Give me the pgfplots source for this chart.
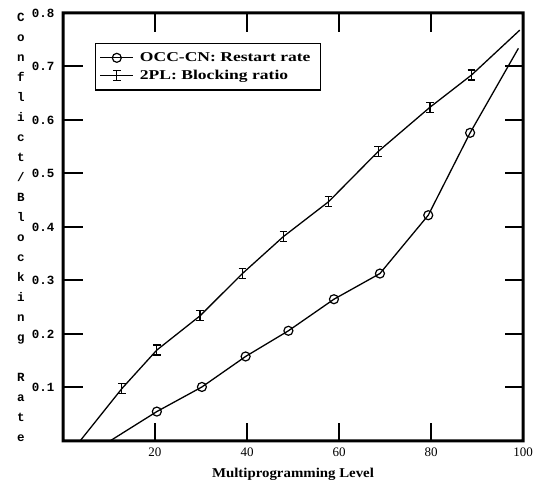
\documentclass[border=0pt]{standalone}
\usepackage{fontspec}
\setmainfont{Liberation Serif}
\setmonofont{Liberation Mono}
\newfontfamily\legfont[FakeStretch=1.3]{Liberation Serif}
\newfontfamily\labfont[FakeStretch=1.1]{Liberation Serif}
\usepackage{pgfplots}
\pgfplotsset{compat=1.18}

% I-shaped marker for the 2PL curve
\pgfdeclareplotmark{ibeam}{%
  \pgfpathmoveto{\pgfqpoint{-0.75\pgfplotmarksize}{\pgfplotmarksize}}%
  \pgfpathlineto{\pgfqpoint{0.75\pgfplotmarksize}{\pgfplotmarksize}}%
  \pgfpathmoveto{\pgfqpoint{0pt}{\pgfplotmarksize}}%
  \pgfpathlineto{\pgfqpoint{0pt}{-\pgfplotmarksize}}%
  \pgfpathmoveto{\pgfqpoint{-0.75\pgfplotmarksize}{-\pgfplotmarksize}}%
  \pgfpathlineto{\pgfqpoint{0.75\pgfplotmarksize}{-\pgfplotmarksize}}%
  \pgfusepathqstroke}

\begin{document}
\begin{tikzpicture}
\useasboundingbox (-63pt,-48pt) rectangle (486pt,441pt);
\begin{axis}[
  at={(0pt,0pt)}, anchor=south west,
  scale only axis, width=460pt, height=428pt,
  xmin=0, xmax=100, ymin=0, ymax=0.8,
  xtick={20,40,60,80,100}, xticklabels={20,40,60,80,100},
  ytick={0.1,0.2,0.3,0.4,0.5,0.6,0.7,0.8},
  yticklabels={0.1,0.2,0.3,0.4,0.5,0.6,0.7,0.8},
  tick align=inside, major tick length=18pt,
  every tick/.append style={black, line width=1.3pt},
  axis line style={line width=1.6pt},
  xticklabel style={font=\fontsize{13}{13}\selectfont, anchor=base, yshift=-16pt},
  yticklabel style={font=\fontsize{12.5}{12.5}\selectfont\ttfamily\bfseries, xshift=-5pt},
  xlabel={Multiprogramming Level},
  xlabel style={font=\labfont\bfseries\fontsize{13.5}{14}\selectfont,
    at={(axis description cs:0.5,0)}, anchor=base, yshift=-37pt},
  legend style={at={(0.0696,0.930)}, anchor=north west, draw=black, line width=1.3pt,
    font=\legfont\bfseries\fontsize{13.5}{15}\selectfont, row sep=3pt,
    inner xsep=4pt, inner ysep=7pt, nodes={inner xsep=6pt}},
  legend cell align=left,
  legend image code/.code={\draw[#1, mark indices={2}] plot coordinates {(0pt,0pt) (16.5pt,0pt) (33pt,0pt)};},
  clip=false]

\addplot[black, line width=1.3pt, mark=o, mark size=4.5pt, mark indices={2,3,4,5,6,7,8,9},
  mark options={fill=white, line width=1.2pt}]
  coordinates {(10.2,0) (20.4,0.055) (30.2,0.101) (39.7,0.158) (49.0,0.206)
    (58.9,0.265) (68.9,0.313) (79.4,0.422) (88.5,0.576) (99.0,0.734)};
\addlegendentry{OCC-CN: Restart rate}

\addplot[black, line width=1.3pt, mark=ibeam, mark size=5pt, mark indices={2,3,4,5,6,7,8,9,10},
  mark options={line width=1.2pt}]
  coordinates {(3.7,0) (12.8,0.098) (20.4,0.170) (29.8,0.234) (39.0,0.313) (47.9,0.382)
    (57.7,0.447) (68.5,0.541) (79.8,0.624) (88.8,0.684) (99.3,0.768)};
\addlegendentry{2PL: Blocking ratio}

\node[xshift=-42pt, inner sep=0pt, align=center,
  font=\fontsize{12.5}{20}\selectfont\ttfamily\bfseries] at (rel axis cs:0,0.5)
  {C\\o\\n\\f\\l\\i\\c\\t\\/\\B\\l\\o\\c\\k\\i\\n\\g\\[20pt]R\\a\\t\\e};
\end{axis}
% heavy frame and long inward ticks of the scan, as filled strips
% (axis box is 460pt x 428pt with its lower left corner at the origin)
\fill[even odd rule] (-1.5pt,-1.5pt) rectangle (461.5pt,429.5pt)
  (1.5pt,1.5pt) rectangle (458.5pt,426.5pt);
\foreach \x in {91,183,275,367} {
  \fill (\x pt,0pt) rectangle ++(2pt,16pt);
  \fill (\x pt,428pt) rectangle ++(2pt,-19pt);
}
\foreach \y in {52.5,106,159.5,213,266.5,320,373.5} {
  \fill (0pt,\y pt) rectangle ++(20pt,2pt);
  \fill (460pt,\y pt) rectangle ++(-18pt,2pt);
}
\end{tikzpicture}
\end{document}
